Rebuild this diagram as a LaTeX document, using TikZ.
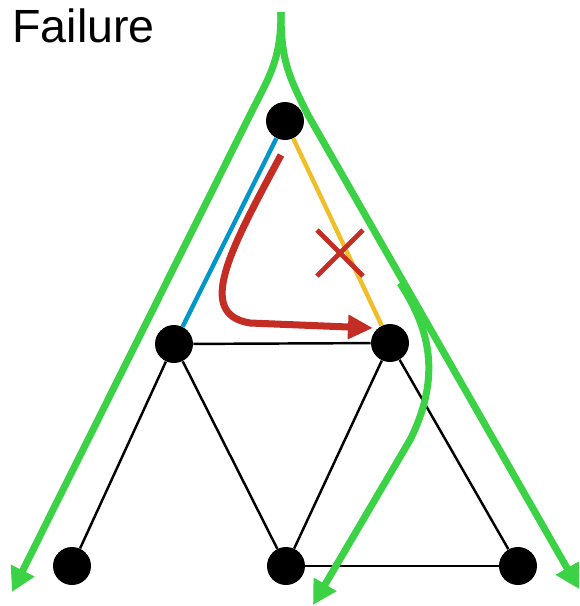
\documentclass[tikz,border=0pt]{standalone}
\usepackage{fontspec}
\setmainfont{Liberation Sans}
\usepackage{tikz}
\usetikzlibrary{arrows.meta, calc}
\definecolor{pathgreen}{RGB}{60,210,70}
\definecolor{linkblue}{RGB}{0,150,200}
\definecolor{linkyellow}{RGB}{240,190,40}
\definecolor{failred}{RGB}{195,45,35}
\tikzset{
  vertex/.style={circle, fill=black, inner sep=0pt, minimum size=0.76cm},
  edge/.style={line width=1.4pt},
  walk/.style={pathgreen, line width=4pt, -{Triangle[length=0.48cm, width=0.5cm]}},
}

\begin{document}
\begin{tikzpicture}[x=0.02cm, y=-0.02cm]
        \useasboundingbox (0,0) rectangle (580,606);
        % Title
        \node[anchor=base west, inner sep=0pt, font=\fontsize{26.5}{31}\selectfont] (title) at (12,42) {Failure};

        % Nodes
        \node[vertex] (top) at (285,121) {};
        \node[vertex] (ml) at (174,344) {};
        \node[vertex] (mr) at (390,343) {};
        \node[vertex] (bl) at (72,566) {};
        \node[vertex] (bm) at (286,566) {};
        \node[vertex] (br) at (518,566) {};

        % Edges
        \draw[edge] (ml) -- (mr);
        \draw[edge] (ml) -- (bl);
        \draw[edge] (ml) -- (bm);
        \draw[edge] (mr) -- (bm);
        \draw[edge] (mr) -- (br);
        \draw[edge] (bm) -- (br);
        \draw[linkblue, line width=2.5pt] (top) -- (ml);
        \draw[linkyellow, line width=2.5pt] (top) -- (mr);

        % Broken link and detour
        \coordinate (x) at (340,253);
        \draw[failred, line width=2.8pt] ($(x)+(-23,-23)$) -- ($(x)+(23,23)$);
        \draw[failred, line width=2.8pt] ($(x)+(23,-23)$) -- ($(x)+(-23,23)$);
        \coordinate (d0) at (281,155);
        \coordinate (d1) at (373,328);
        \draw[failred, line width=4pt, -{Triangle[length=0.5cm, width=0.46cm]}]
          (d0) .. controls (230,250) and (195,314) .. (250,323) -- (d1);

        % Traversal paths
        \coordinate (src) at (281,12);
        \coordinate (split) at (400,283);
        \coordinate (endl) at (12,592);
        \coordinate (endr) at (579,589);
        \coordinate (endm) at (313,605);
        \draw[walk] (src) .. controls (281,60) and (270,75) .. (250,115) -- (endl);
        \draw[walk] (src) .. controls (281,60) and (288,75) .. (308,115) -- (endr);
        \draw[walk] (split) .. controls (425,322) and (445,370) .. (410,440) -- (endm);
\end{tikzpicture}
\end{document}
